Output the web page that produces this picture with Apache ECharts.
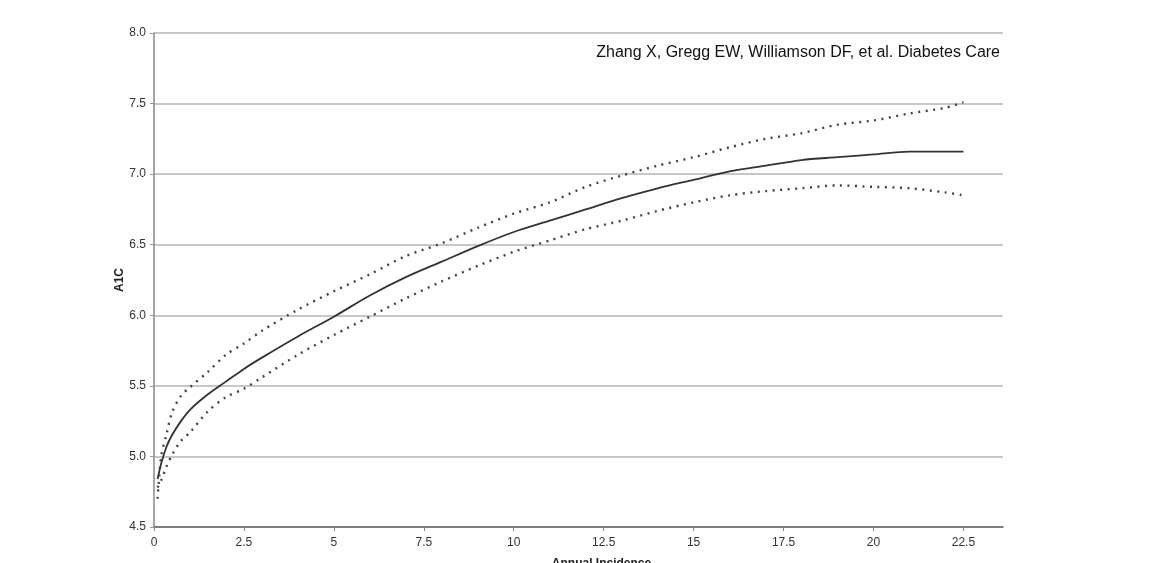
<!DOCTYPE html>
<html>
<head>
<meta charset="utf-8">
<title>A1C vs Annual Incidence</title>
<script src="https://cdn.jsdelivr.net/npm/echarts@6/dist/echarts.min.js"></script>
<style>
  html, body { margin: 0; padding: 0; background: #ffffff; }
  #chart { width: 1149px; height: 563px; }
</style>
</head>
<body>
<div id="chart"></div>
<script>
// Annual incidence (x) sample points shared by all three curves
const incidence = [0.1, 0.2, 0.35, 0.5, 0.75, 1, 1.5, 2, 2.5, 3, 4, 5, 6, 7, 8, 9, 10,
  11, 12, 13, 14, 15, 16, 17, 18, 19, 20, 21, 22, 22.5];

// Fitted A1C curve
const a1cFit = [4.84, 4.95, 5.07, 5.15, 5.25, 5.33, 5.44, 5.53, 5.62, 5.70, 5.85, 5.99,
  6.14, 6.27, 6.38, 6.49, 6.59, 6.67, 6.75, 6.83, 6.90, 6.96, 7.02, 7.06, 7.10, 7.12,
  7.14, 7.16, 7.16, 7.16];

// Upper confidence bound
const a1cUpper = [4.70, 5.00, 5.16, 5.31, 5.43, 5.49, 5.60, 5.72, 5.80, 5.89, 6.04, 6.17,
  6.29, 6.42, 6.51, 6.62, 6.72, 6.80, 6.91, 6.99, 7.06, 7.12, 7.19, 7.25, 7.29, 7.35,
  7.38, 7.43, 7.47, 7.51];

// Lower confidence bound
const a1cLower = [4.78, 4.83, 4.93, 5.01, 5.11, 5.17, 5.32, 5.42, 5.48, 5.56, 5.72, 5.86,
  5.99, 6.12, 6.24, 6.35, 6.45, 6.53, 6.61, 6.67, 6.74, 6.80, 6.85, 6.88, 6.90, 6.92,
  6.91, 6.90, 6.87, 6.85];

// Axis tick values
const xTicks = [0, 2.5, 5, 7.5, 10, 12.5, 15, 17.5, 20, 22.5];
const yTicks = [4.5, 5.0, 5.5, 6.0, 6.5, 7.0, 7.5, 8.0];

const sourceNote = 'Zhang X, Gregg EW, Williamson DF, et al. Diabetes Care';

const pairs = ys => incidence.map((x, i) => [x, ys[i]]);

const chart = echarts.init(document.getElementById('chart'), null, { renderer: 'canvas' });

const fontFamily = '"Liberation Sans", Arial, sans-serif';

chart.setOption({
  animation: false,
  backgroundColor: '#ffffff',
  grid: { left: 154, right: 146, top: 33, bottom: 36, outerBoundsMode: 'none', containLabel: false },
  xAxis: {
    type: 'value',
    min: 0,
    max: 23.6,
    name: 'Annual Incidence',
    nameLocation: 'middle',
    nameGap: 31,
    nameTextStyle: {
      fontFamily, fontSize: 12, fontWeight: 'bold', color: '#222',
      padding: [0, 0, 0, 46]
    },
    axisLine: { show: true, lineStyle: { color: '#666', width: 1.5 } },
    axisTick: { show: true, length: 4, customValues: xTicks, lineStyle: { color: '#888' } },
    axisLabel: { customValues: xTicks, fontFamily, fontSize: 12, color: '#333', margin: 10 },
    splitLine: { show: false }
  },
  yAxis: {
    type: 'value',
    min: 4.5,
    max: 8.0,
    interval: 0.5,
    name: 'A1C',
    nameLocation: 'middle',
    nameGap: 28,
    nameMoveOverlap: false,
    nameRotate: 90,
    nameTextStyle: { fontFamily, fontSize: 12, fontWeight: 'bold', color: '#222' },
    axisLine: { show: true, lineStyle: { color: '#888', width: 1.5 } },
    axisTick: { show: true, length: 4, lineStyle: { color: '#999' } },
    axisLabel: {
      customValues: yTicks,
      fontFamily, fontSize: 12, color: '#333', margin: 8,
      formatter: v => v.toFixed(1)
    },
    splitLine: { show: true, lineStyle: { color: '#b4b4b4', width: 1.5 } }
  },
  graphic: [{
    type: 'text',
    right: 149,
    top: 45,
    style: { text: sourceNote, font: '16px ' + fontFamily, fill: '#111' }
  }],
  series: [
    {
      name: 'Upper',
      type: 'line',
      data: pairs(a1cUpper),
      smooth: 0.3,
      symbol: 'none',
      lineStyle: { color: '#444', width: 2.4, type: [2, 5.5], cap: 'butt' }
    },
    {
      name: 'Lower',
      type: 'line',
      data: pairs(a1cLower),
      smooth: 0.3,
      symbol: 'none',
      lineStyle: { color: '#444', width: 2.4, type: [2, 5.5], cap: 'butt' }
    },
    {
      name: 'A1C',
      type: 'line',
      data: pairs(a1cFit),
      smooth: 0.3,
      symbol: 'none',
      lineStyle: { color: '#333', width: 1.8 }
    }
  ]
});
</script>
</body>
</html>
